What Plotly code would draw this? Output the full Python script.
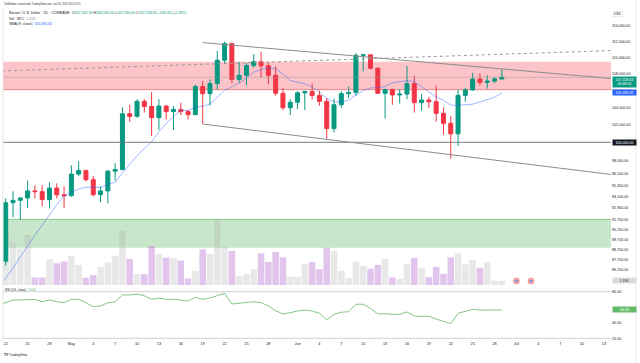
import math
import pandas as pd
import plotly.graph_objects as go

# ---------------- data ----------------
dates = pd.date_range("2025-04-22", "2025-06-29", freq="D")
opens = [87520, 93450, 93700, 93950, 94700, 94620, 93780, 95000, 94280, 94180,
         96500, 96900, 95900, 94300, 94700, 96820, 97000, 103250, 102950, 104700,
         104100, 102800, 104150, 103500, 103750, 103500, 103150, 106450, 105600, 106800,
         109650, 111700, 107300, 107800, 109000, 109450, 108950, 107800, 105650, 103950,
         104600, 105700, 105850, 105400, 104700, 101550, 104300, 105600, 105750, 110250,
         110300, 108650, 105650, 106100, 105450, 105550, 106800, 104550, 104850, 104650,
         103300, 102150, 100950, 105400, 106050, 107350, 106950, 107100, 107352.30]
highs = [93900, 94650, 94000, 95800, 95300, 95300, 95600, 95500, 95200, 97450,
         97900, 96950, 96300, 95200, 96900, 97700, 104000, 104300, 104950, 104950,
         105800, 104950, 104300, 104150, 104550, 103700, 106700, 107100, 107300, 110800,
         111950, 111800, 109450, 109300, 110400, 110700, 109300, 108900, 106300, 104950,
         105900, 105950, 106800, 105950, 105100, 105000, 105900, 106450, 110500, 110400,
         110350, 108800, 106200, 106200, 106150, 108950, 107750, 105550, 105250, 106550,
         104000, 103000, 106100, 106300, 108100, 108000, 107800, 107600, 108530.00]
lows = [87100, 91950, 91700, 92900, 93900, 93100, 92850, 93900, 92900, 94100,
        96300, 95700, 94100, 93500, 93400, 95800, 96900, 102300, 102800, 103400,
        100700, 101400, 102600, 101400, 103100, 102600, 103100, 102100, 104200, 106100,
        109300, 106800, 106900, 106600, 108700, 107550, 106700, 105350, 103650, 103100,
        103800, 103700, 104900, 104200, 100400, 101100, 103900, 105100, 105350, 108300,
        108500, 105700, 102700, 104300, 104450, 104950, 103400, 103600, 103900, 102350,
        100850, 98200, 99600, 104650, 105950, 106550, 106200, 106850, 107330.00]
closes = [93450, 93700, 93950, 94700, 94620, 93780, 95000, 94280, 94180, 96500,
          96900, 95900, 94300, 94700, 96820, 97000, 103250, 102950, 104700, 104100,
          102800, 104150, 103500, 103750, 103500, 103150, 106450, 105600, 106800, 109650,
          111700, 107300, 107800, 109000, 109450, 108950, 107800, 105650, 103950, 104600,
          105700, 105850, 105400, 104700, 101550, 104300, 105600, 105750, 110250, 110300,
          108650, 105650, 106100, 105450, 105550, 106800, 104550, 104850, 104650, 103300,
          102150, 100950, 105400, 106050, 107350, 106950, 107100, 107360, 107558.63]
volumes = [16500, 13100, 11100, 15200, 2300, 2300, 7800, 6600, 7100, 8900,
           6100, 2200, 3000, 5500, 6800, 8900, 16500, 7900, 3300, 3300,
           11800, 9400, 8300, 8300, 7400, 2000, 4300, 10800, 9400, 19700,
           11600, 10300, 2700, 3300, 4800, 9600, 7000, 10000, 8400, 2500,
           2500, 6300, 7000, 4800, 11300, 10300, 4300, 2100, 7100, 5800,
           4900, 6100, 7900, 2300, 1800, 6400, 8200, 5200, 2400, 5500,
           3400, 8400, 9600, 6300, 7600, 5200, 6900, 1300, 1310]

ind_dates = pd.date_range("2025-04-21", "2025-06-29", freq="D")
sma9 = [85070, 85860, 86870, 87960, 89060, 90110, 91130, 92220, 93250, 94184,
        94523, 94879, 95096, 95051, 95060, 95398, 95620, 96617, 97591, 98502,
        99302, 100069, 101163, 102141, 102911, 103633, 103622, 104011, 104111, 104411,
        105172, 106011, 106433, 106883, 107494, 108194, 108472, 108717, 108589, 107956,
        107167, 106989, 106772, 106372, 105844, 105022, 104633, 104628, 104828, 105456,
        105967, 106278, 106306, 106461, 106894, 107033, 107167, 107033, 106433, 105806,
        105211, 104822, 104250, 104244, 104300, 104361, 104628, 104878, 105179, 105684.82]
rsi14 = [63.5, 65.8, 69.3, 69.3, 70.2, 70.0, 67.1, 69.3, 67.1, 65.8, 70.2,
         70.2, 65.8, 60.7, 61.6, 65.8, 67.1, 75.8, 75.8, 77.0, 74.9,
         70.2, 71.5, 70.2, 70.2, 69.3, 68.0, 72.8, 70.2, 71.9, 74.5,
         77.9, 64.2, 65.0, 66.3, 67.1, 65.8, 61.6, 55.5, 51.3, 53.0,
         55.2, 56.4, 55.2, 52.2, 43.6, 50.9, 53.5, 54.3, 63.8, 63.8,
         58.6, 51.3, 51.7, 50.9, 50.9, 53.9, 48.7, 48.3, 48.3, 44.9,
         41.9, 38.8, 52.2, 54.3, 57.3, 56.4, 56.4, 56.8, 56.56]

# drawings (anchor points)
upper_line_dates = ["2025-05-19", "2025-07-14"]
upper_line_prices = [111830, 107410]
lower_line_dates = ["2025-05-19", "2025-07-14"]
lower_line_prices = [102070, 96455]
dotted_line_dates = ["2025-04-21 12:00", "2025-07-14"]
dotted_line_prices = [108320, 110830]
level_dates = ["2025-04-20", "2025-07-15"]
level_price = 100000
last_price = 107558.63
sma_last = 105684.82
vol_last = 1310
rsi_last = 56.56
pink_zone = [106080, 109450]
green_zone = [88840, 91720]
event_dates = ["2025-07-01", "2025-07-03"]
event_level = [1200, 1200]

# ticks fully hidden under value labels in the reference are left out
price_ticks = [114000, 112000, 110000, 108000, 106000, 104000, 102000, 98000,
               96500, 95300, 94100, 92900, 91700, 90700, 89700, 88700, 87700, 86700]
rsi_ticks = [80, 40, 20]
x_tick_dates = ["2025-04-22", "2025-04-25", "2025-04-28", "2025-05-01", "2025-05-04", "2025-05-07",
                "2025-05-10", "2025-05-13", "2025-05-16", "2025-05-19", "2025-05-22", "2025-05-25",
                "2025-05-28", "2025-06-01", "2025-06-04", "2025-06-07", "2025-06-10", "2025-06-13",
                "2025-06-16", "2025-06-19", "2025-06-22", "2025-06-25", "2025-06-28", "2025-07-01",
                "2025-07-04", "2025-07-07", "2025-07-10", "2025-07-13"]
x_tick_text = ["22", "25", "28", "May", "4", "7", "10", "13", "16", "19", "22", "25", "28",
               "Jun", "4", "7", "10", "13", "16", "19", "22", "25", "28", "Jul", "4", "7", "10", "13"]

# ---------------- layout helpers ----------------
W, H = 640, 363
ML, MR = 3, 29
PW = W - ML - MR
FONT = "Liberation Sans, Arial, sans-serif"
TXT = "#131722"
UP, DOWN = "#089981", "#f23645"


def px_x(px):
    return (px - ML) / PW


def px_y(py):
    return 1 - py / H


fig = go.Figure()

# volume (base axis, drawn beneath price)
vol_colors = ["rgba(180,180,180,0.30)" if c >= o else "rgba(170,90,200,0.35)"
              for o, c in zip(opens, closes)]
fig.add_trace(go.Bar(x=dates, y=volumes, marker=dict(color=vol_colors, line=dict(width=0)),
                     yaxis="y", xaxis="x", hoverinfo="skip"))
fig.add_trace(go.Scatter(x=event_dates, y=event_level, mode="markers", yaxis="y",
                         marker=dict(symbol="circle", size=6, color="#f6a5a8",
                                     line=dict(color="#e57f84", width=0.6))))
fig.add_trace(go.Scatter(x=event_dates, y=event_level, mode="markers", yaxis="y",
                         marker=dict(symbol="square", size=2.2, color="#6f8fd8", line=dict(width=0))))

# candles
fig.add_trace(go.Candlestick(x=dates, open=opens, high=highs, low=lows, close=closes,
                             yaxis="y2", xaxis="x",
                             increasing=dict(line=dict(color=UP, width=1), fillcolor=UP),
                             decreasing=dict(line=dict(color=DOWN, width=1), fillcolor=DOWN)))
# SMA
fig.add_trace(go.Scatter(x=ind_dates, y=sma9, mode="lines", yaxis="y2",
                         line=dict(color="rgba(41,98,255,0.45)", width=1)))
# drawings
gline = "#8c8c8c"
fig.add_trace(go.Scatter(x=level_dates, y=[level_price, level_price], mode="lines", yaxis="y2",
                         line=dict(color="#7b7b7b", width=1)))
fig.add_trace(go.Scatter(x=level_dates, y=[last_price, last_price], mode="lines", yaxis="y2",
                         line=dict(color="rgba(150,150,150,0.45)", width=1)))
fig.add_trace(go.Scatter(x=upper_line_dates, y=upper_line_prices, mode="lines", yaxis="y2",
                         line=dict(color=gline, width=1)))
fig.add_trace(go.Scatter(x=lower_line_dates, y=lower_line_prices, mode="lines", yaxis="y2",
                         line=dict(color=gline, width=1)))
fig.add_trace(go.Scatter(x=dotted_line_dates, y=dotted_line_prices, mode="lines", yaxis="y2",
                         line=dict(color="#9a9a9a", width=1, dash="dot")))
# RSI
fig.add_trace(go.Scatter(x=ind_dates, y=rsi14, mode="lines", yaxis="y3",
                         line=dict(color="#81c784", width=1)))

shapes = [
    dict(type="rect", xref="paper", x0=0, x1=1, yref="y2", y0=pink_zone[0], y1=pink_zone[1],
         fillcolor="rgb(252,196,200)", line=dict(width=0), layer="below"),
    dict(type="line", xref="paper", x0=0, x1=1, yref="y2", y0=pink_zone[0], y1=pink_zone[0],
         line=dict(color="#ef8489", width=1), layer="below"),
    dict(type="rect", xref="paper", x0=0, x1=1, yref="y2", y0=green_zone[0], y1=green_zone[1],
         fillcolor="rgb(200,230,201)", line=dict(width=0), layer="below"),
    dict(type="line", xref="paper", x0=0, x1=1, yref="y2", y0=green_zone[1], y1=green_zone[1],
         line=dict(color="#86c98a", width=1), layer="below"),
    dict(type="line", xref="paper", x0=0, x1=1, yref="y3", y0=80, y1=80,
         line=dict(color="#d0d0d0", width=1)),
    dict(type="line", xref="paper", x0=0, x1=1, yref="y3", y0=20, y1=20,
         line=dict(color="#d0d0d0", width=1)),
    dict(type="line", xref="paper", x0=0, x1=0, yref="paper", y0=px_y(340), y1=px_y(9),
         line=dict(color="#e6e6e6", width=1)),
    dict(type="line", xref="paper", x0=px_x(636), x1=px_x(636), yref="paper", y0=0, y1=1,
         line=dict(color="#ececec", width=1)),
]

anns = []


def ann(text, px, py, size, color=TXT, xanchor="left", yanchor="middle", **kw):
    d = dict(text=text, xref="paper", yref="paper", x=px_x(px), y=px_y(py), showarrow=False,
             xanchor=xanchor, yanchor=yanchor, font=dict(size=size, color=color, family=FONT))
    d.update(kw)
    anns.append(d)


ann("TimBaldon created with TradingView.com, Jun 29, 2025 18:11 UTC", 1.7, 4.2, 2.6, "#333")
g = UP
ann("Bitcoin / U.S. Dollar · 1D · COINBASE  "
    f"O<span style='color:{g}'>107,352.30</span> H<span style='color:{g}'>108,530.00</span> "
    f"L<span style='color:{g}'>107,330.00</span> C<span style='color:{g}'>107,558.63</span> "
    f"<span style='color:{g}'>+198.43 (+0.18%)</span>", 6.7, 13.3, 3.6)
ann("Vol · BTC  <span style='color:#9598a1'>1.31K</span>", 6.7, 19.0, 3.6)
ann("SMA (9, close)  <span style='color:#2962ff'>105,684.82</span>", 6.7, 24.3, 3.6)
ann(f"RSI (14, close)  <span style='color:#5fb563'>{rsi_last:.2f}</span>", 3.3, 289.6, 3.2)
ann("<b>TV</b> TradingView", 2.0, 354.5, 3.3)
ann("USD", 613.2, 14.0, 3.2, bgcolor="white", bordercolor="#d6d6d6", borderwidth=0.5, borderpad=0.6)


def axis_label(text, yref, yval, bg, fg="white", yshift=0, yanchor="middle"):
    anns.append(dict(text=text, xref="paper", x=px_x(612), xanchor="left", yref=yref, y=yval,
                     yanchor=yanchor, yshift=yshift, showarrow=False, width=22, align="center",
                     bgcolor=bg, borderpad=0.6,
                     font=dict(size=3.6, color=fg, family=FONT)))


axis_label(f"{last_price:,.2f}<br>05:48:52", "y2", math.log10(last_price), UP,
           yshift=1.6, yanchor="top")
axis_label(f"{sma_last:,.2f}", "y2", math.log10(sma_last), "#2962ff")
axis_label(f"{level_price:,.2f}", "y2", math.log10(level_price), "#131722")
axis_label("1.31K", "y", vol_last, "#dcdcdc", fg=TXT, yshift=0.5)
axis_label(f"{rsi_last:.2f}", "y3", rsi_last, "#66bb6a")

# price axis calibration: log range over pane py 9..286
p_dom = [px_y(286), px_y(9)]
fig.update_layout(
    width=W, height=H, margin=dict(l=ML, r=MR, t=0, b=0),
    paper_bgcolor="white", plot_bgcolor="rgba(0,0,0,0)", showlegend=False,
    bargap=0.1, boxgap=0.22, font=dict(family=FONT, color=TXT),
    shapes=shapes, annotations=anns,
    xaxis=dict(type="date", range=["2025-04-21 15:07", "2025-07-13 23:07"], anchor="y3",
               rangeslider=dict(visible=False), showgrid=False, zeroline=False, showline=False,
               tickmode="array", tickvals=x_tick_dates, ticktext=x_tick_text, ticks="",
               tickfont=dict(size=3.8, color=TXT, family=FONT)),
    yaxis=dict(domain=p_dom, range=[-303, 83636], visible=False, showgrid=False),
    yaxis2=dict(overlaying="y", type="log", range=[4.93004, 5.06490], side="right", anchor="x",
                showgrid=False, zeroline=False, showline=False, ticks="",
                tickmode="array", tickvals=price_ticks,
                ticktext=[f"{v:,.2f}" for v in price_ticks],
                tickfont=dict(size=3.7, color=TXT, family=FONT)),
    yaxis3=dict(domain=[px_y(340), px_y(289)], range=[17.81, 83.48], side="right", anchor="x",
                showgrid=False, zeroline=False, showline=False, ticks="",
                tickmode="array", tickvals=rsi_ticks, ticktext=[f"{v:.2f}" for v in rsi_ticks],
                tickfont=dict(size=3.7, color=TXT, family=FONT)),
)

fig.write_html("out.html", config={"displayModeBar": False},
               post_script="document.body.style.margin='0';document.body.style.padding='0';")
